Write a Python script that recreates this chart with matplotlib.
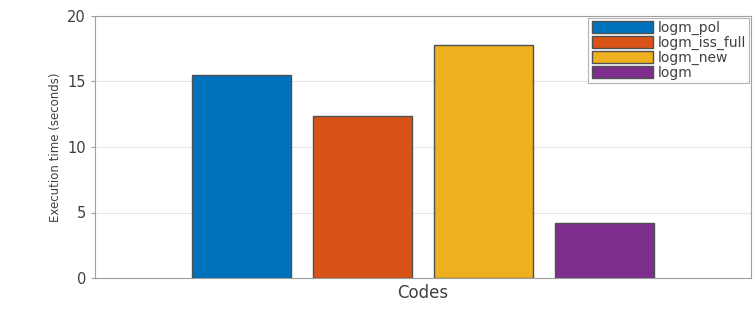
import matplotlib.pyplot as plt
import numpy as np

codes = ["logm_pol", "logm_iss_full", "logm_new", "logm"]
times = [15.5, 12.4, 17.8, 4.2]
colors = ["#0072BD", "#D95319", "#EDB120", "#7E2F8E"]
yticks = [0, 5, 10, 15, 20]

fig = plt.figure(figsize=(7.56, 3.10), dpi=100)
ax = fig.add_axes([95 / 756, 32 / 310, 656 / 756, 262 / 310])

pos = np.arange(len(codes)) - 1.5
for p, t, c, name in zip(pos, times, colors, codes):
    ax.bar(p, t, width=0.82, color=c, edgecolor="#505050", linewidth=1.0,
           label=name, zorder=3)

ax.set_xlim(-2.71, 2.71)
ax.set_ylim(0, 20)
ax.set_yticks(yticks)
ax.set_yticklabels([str(v) for v in yticks], fontsize=10.5, color="#404040")
ax.set_xticks([])
ax.set_xlabel("Codes", fontsize=12, color="#404040", labelpad=4)
ax.set_ylabel("Execution time (seconds)", fontsize=8.5, color="#404040")
ax.grid(axis="y", color="#e6e6e6", linewidth=0.8, zorder=0)
for s in ax.spines.values():
    s.set_color("#a0a0a0")
ax.tick_params(axis="y", length=3, color="#a0a0a0")

leg = ax.legend(loc="upper right", prop={"size": 10}, frameon=True,
                fancybox=False, handlelength=4.4, handleheight=0.95,
                borderaxespad=0.12, labelspacing=0.05, handletextpad=0.35,
                borderpad=0.25)
leg.get_frame().set_edgecolor("#a0a0a0")
leg.get_frame().set_linewidth(0.8)
for t in leg.get_texts():
    t.set_color("#404040")

fig.savefig("out.png", dpi=100)
